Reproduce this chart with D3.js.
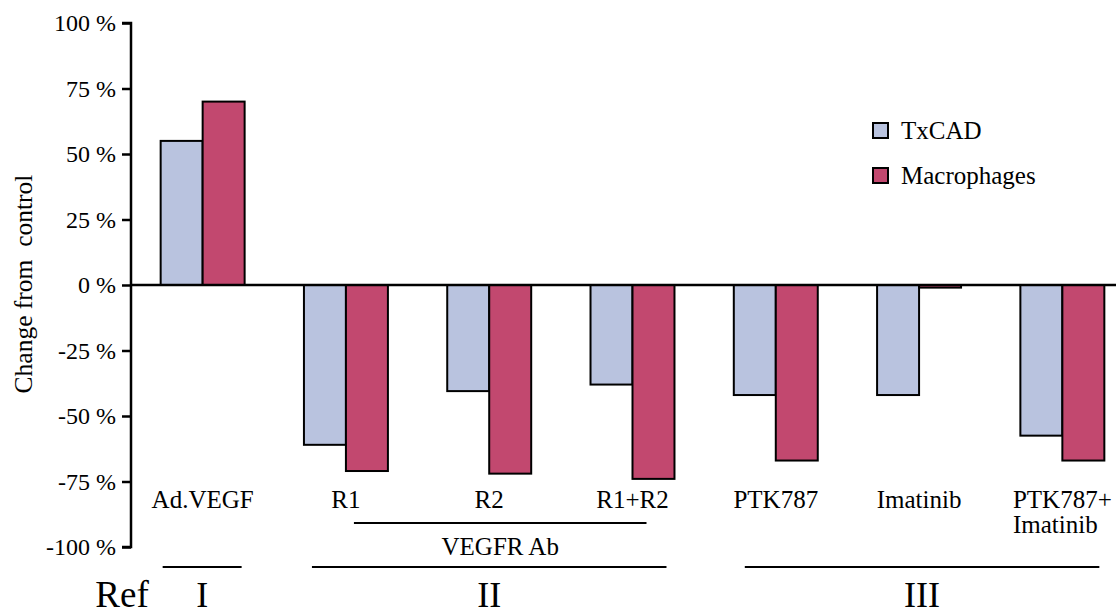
<!DOCTYPE html>
<html>
<head>
<meta charset="utf-8">
<script src="https://cdn.jsdelivr.net/npm/d3@7"></script>
<style>
  html, body { margin: 0; padding: 0; background: #fff; }
  svg { display: block; font-family: "Liberation Serif", "Times New Roman", serif; }
</style>
</head>
<body>
<svg id="chart" width="1116" height="615"></svg>
<script>
// ---- data ----
const categories = ["Ad.VEGF", "R1", "R2", "R1+R2", "PTK787", "Imatinib", "PTK787+\nImatinib"];
const seriesNames = ["TxCAD", "Macrophages"];
const txcad = [55, -61, -40.5, -38, -42, -42, -57.5];
const macrophages = [70, -71, -72, -74, -67, -1, -67];
const yTicks = [100, 75, 50, 25, 0, -25, -50, -75, -100];
const groupLabels = ["I", "II", "III"];
const groupSpans = [["Ad.VEGF", "Ad.VEGF"], ["R1", "R1+R2"], ["PTK787", "PTK787+\nImatinib"]];
const subGroupLabel = "VEGFR Ab";
const subGroupSpan = ["R1", "R1+R2"];
const yTitle = "Change from  control";
const refLabel = "Ref";

const colors = { TxCAD: "#B9C3DF", Macrophages: "#C2486F" };
const serif = "Liberation Serif, Times New Roman, serif";

const svg = d3.select("#chart");
const axisX = 131;
const y = d3.scaleLinear().domain([-100, 100]).range([547, 23]);
const x = d3.scaleBand().domain(categories).range([131, 1134]).paddingInner(0.414).paddingOuter(0.207);
const xs = d3.scaleBand().domain(seriesNames).range([0, x.bandwidth()]);

const data = categories.map((c, i) => ({ cat: c, values: [
  { key: "TxCAD", v: txcad[i] }, { key: "Macrophages", v: macrophages[i] } ] }));

// bars
const g = svg.append("g");
g.selectAll("g.grp").data(data).join("g")
  .attr("transform", d => `translate(${x(d.cat)},0)`)
  .selectAll("rect").data(d => d.values).join("rect")
  .attr("x", d => xs(d.key))
  .attr("width", xs.bandwidth())
  .attr("y", d => y(Math.max(0, d.v)))
  .attr("height", d => Math.abs(y(d.v) - y(0)))
  .attr("fill", d => colors[d.key])
  .attr("stroke", "#000")
  .attr("stroke-width", 2);

// zero line
svg.append("line").attr("x1", axisX).attr("x2", 1116)
  .attr("y1", y(0)).attr("y2", y(0)).attr("stroke", "#000").attr("stroke-width", 2.5);

// y axis
const yAxis = d3.axisLeft(y).tickValues(yTicks).tickSize(9).tickPadding(6)
  .tickFormat(d => d + " %");
const ya = svg.append("g").attr("transform", `translate(${axisX},0)`).call(yAxis)
  .attr("font-family", serif);
ya.select(".domain").attr("stroke", "#000").attr("stroke-width", 2.5).attr("d", `M-9,${y(100)}H0V${y(-100)}H-9`);
ya.selectAll(".tick line").attr("stroke", "#000").attr("stroke-width", 2.5);
ya.selectAll(".tick text").attr("font-family", serif).attr("font-size", 24).attr("fill", "#000");

// y title
svg.append("text").attr("transform", `translate(32,284) rotate(-90)`)
  .attr("text-anchor", "middle").attr("font-size", 25.5).attr("fill", "#000")
  .attr("xml:space", "preserve").style("white-space", "pre").text(yTitle);

// category labels
const labelY = 508;
categories.forEach(c => {
  const lines = c.split("\n");
  const cx = x(c) + x.bandwidth() / 2;
  const t = svg.append("text").attr("font-size", 25).attr("fill", "#000").attr("y", labelY);
  if (lines.length === 1) {
    t.attr("x", cx).attr("text-anchor", "middle").text(c);
  } else {
    t.attr("text-anchor", "start");
    const ts = lines.map((ln, i) => t.append("tspan").attr("dy", i === 0 ? 0 : 25).text(ln));
    const w = ts[0].node().getComputedTextLength();
    ts.forEach(s => s.attr("x", cx - w / 2));
  }
});

// sub group
const sgx1 = x(subGroupSpan[0]) + x.bandwidth() / 2 + 8;
const sgx2 = x(subGroupSpan[1]) + x.bandwidth() / 2 + 14;
svg.append("line").attr("x1", sgx1).attr("x2", sgx2).attr("y1", 523).attr("y2", 523)
  .attr("stroke", "#000").attr("stroke-width", 2);
svg.append("text").attr("x", (sgx1 + sgx2) / 2).attr("y", 555).attr("text-anchor", "middle")
  .attr("font-size", 25).attr("fill", "#000").text(subGroupLabel);

// group lines and roman labels
const pads = [[2, -3], [8, -8], [11, -5]];
groupSpans.forEach((sp, i) => {
  const x1 = x(sp[0]) + pads[i][0];
  const x2 = x(sp[1]) + x.bandwidth() + pads[i][1];
  svg.append("line").attr("x1", x1).attr("x2", x2).attr("y1", 567).attr("y2", 567)
    .attr("stroke", "#000").attr("stroke-width", 2);
  svg.append("text").attr("x", (x1 + x2) / 2).attr("y", 607).attr("text-anchor", "middle")
    .attr("font-size", 36).attr("fill", "#000").text(groupLabels[i]);
});
svg.append("text").attr("x", 122).attr("y", 607).attr("text-anchor", "middle")
  .attr("font-size", 37).attr("fill", "#000").text(refLabel);

// legend
const leg = svg.append("g").attr("transform", "translate(873,123)");
seriesNames.forEach((s, i) => {
  const row = leg.append("g").attr("transform", `translate(0,${i * 45})`);
  row.append("rect").attr("width", 15).attr("height", 15).attr("fill", colors[s])
    .attr("stroke", "#000").attr("stroke-width", 2);
  row.append("text").attr("x", 28).attr("y", 16).attr("font-size", 25).attr("fill", "#000").text(s);
});
</script>
</body>
</html>
